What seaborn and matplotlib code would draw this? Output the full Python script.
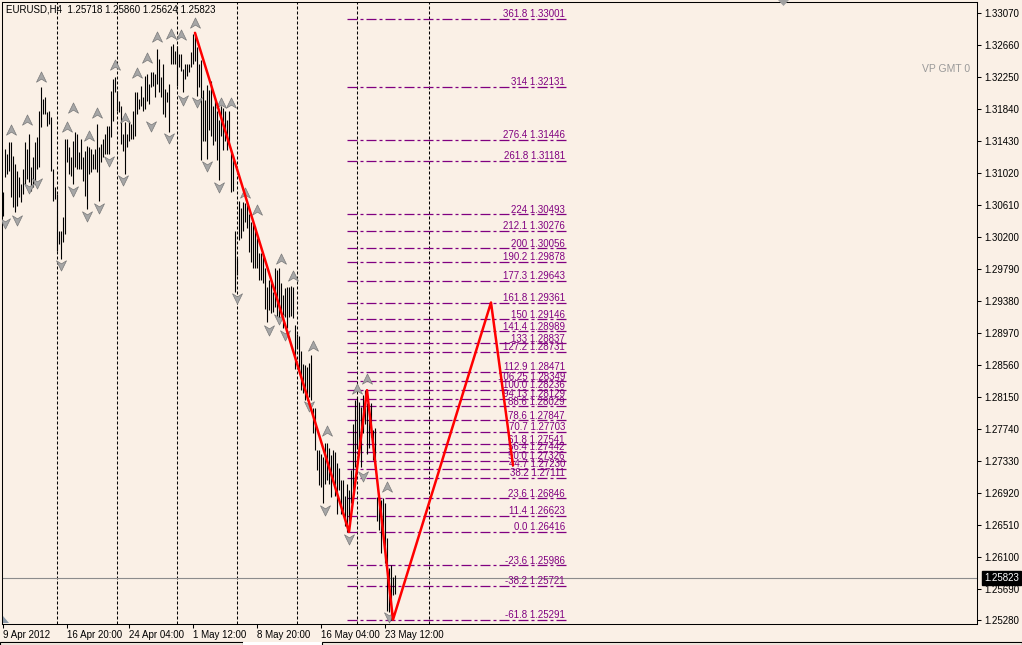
import matplotlib
matplotlib.use("Agg")
import matplotlib.pyplot as plt
from matplotlib.path import Path
from matplotlib.patches import Polygon, Rectangle
import seaborn as sns

# ---------------- data ----------------
bar_high = [
    1.30776, 1.31332, 1.31268, 1.31418, 1.31418, 1.31247, 1.31140, 1.31054, 1.30968, 1.30883,
    1.31075, 1.31418, 1.31332, 1.31525, 1.31097, 1.31225, 1.31418, 1.31482, 1.31824, 1.32124,
    1.31974, 1.31996, 1.31803, 1.31824, 1.31739, 1.31075, 1.30840, 1.30754, 1.30284, 1.30284,
    1.30455, 1.31461, 1.31461, 1.31354, 1.31225, 1.31439, 1.31546, 1.31525, 1.31289, 1.31461,
    1.31225, 1.31311, 1.31375, 1.31354, 1.31332, 1.31268, 1.31332, 1.31653, 1.31354, 1.31396,
    1.31461, 1.31525, 1.31632, 1.31632, 1.32081, 1.32231, 1.32252, 1.32081, 1.31953, 1.31889,
    1.31525, 1.31675, 1.31525, 1.31696, 1.31653, 1.31824, 1.32060, 1.32060, 1.31974, 1.32145,
    1.31996, 1.32274, 1.32295, 1.32167, 1.32317, 1.32317, 1.32295, 1.32616, 1.32488, 1.32252,
    1.32424, 1.32103, 1.32060, 1.32167, 1.32659, 1.32680, 1.32595, 1.32659, 1.32552, 1.32552,
    1.32359, 1.32424, 1.32424, 1.32424, 1.32573, 1.32809, 1.32822, 1.32638, 1.32424,
    1.32467, 1.32082, 1.31954, 1.32146, 1.32082, 1.32210, 1.31889, 1.31954, 1.31825, 1.31697,
    1.31889, 1.31851, 1.31825, 1.31697, 1.31825, 1.31312, 1.31248, 1.30285, 1.29926, 1.30670,
    1.30580, 1.30645, 1.30632, 1.30632, 1.30503, 1.30388, 1.30375, 1.30349, 1.30195, 1.29990,
    1.29990, 1.29965, 1.29798, 1.29554, 1.29644, 1.29605, 1.29490, 1.29798, 1.29772, 1.29798,
    1.29605, 1.29451, 1.29541, 1.29554, 1.29554, 1.29579, 1.29554, 1.29066, 1.28963, 1.28937,
    1.28745, 1.28578, 1.28553, 1.28527, 1.28591, 1.28681, 1.28001, 1.28001, 1.27462, 1.27462,
    1.27423, 1.27372, 1.27564, 1.27552, 1.27500, 1.27398, 1.27462, 1.27436, 1.27295, 1.27231,
    1.27077, 1.27077, 1.26884, 1.27038, 1.26949, 1.27205, 1.27808, 1.28104, 1.28142, 1.28078,
    1.28014, 1.28180, 1.28236, 1.28065, 1.27873, 1.28065, 1.27719, 1.27744, 1.26859, 1.26846,
    1.26820, 1.26846, 1.26782, 1.26345, 1.25960, 1.25986, 1.25832, 1.25860,
]
bar_low = [
    1.30476, 1.30968, 1.31011, 1.31054, 1.30712, 1.30583, 1.30519, 1.30605, 1.30712, 1.30647,
    1.30754, 1.30883, 1.30947, 1.30904, 1.30797, 1.30840, 1.30883, 1.31075, 1.31097, 1.31610,
    1.31782, 1.31782, 1.31632, 1.31653, 1.31054, 1.30669, 1.30690, 1.30027, 1.30112, 1.29920,
    1.30134, 1.30241, 1.31161, 1.31011, 1.30990, 1.30883, 1.31097, 1.31075, 1.31075, 1.31075,
    1.30926, 1.30733, 1.30562, 1.31011, 1.31033, 1.31075, 1.31075, 1.31033, 1.30669, 1.31161,
    1.31225, 1.31268, 1.31268, 1.31268, 1.31482, 1.31696, 1.32060, 1.31824, 1.31803, 1.31396,
    1.31311, 1.31011, 1.31354, 1.31439, 1.31461, 1.31461, 1.31503, 1.31782, 1.31846, 1.31889,
    1.31824, 1.31846, 1.31953, 1.31910, 1.32124, 1.32145, 1.31996, 1.32167, 1.32060, 1.31996,
    1.31782, 1.31739, 1.31931, 1.31546, 1.32424, 1.32424, 1.32424, 1.32145, 1.32381, 1.32338,
    1.32060, 1.32231, 1.32274, 1.32317, 1.32381, 1.32424, 1.32466, 1.32017, 1.32124,
    1.31184, 1.31440, 1.31440, 1.31209, 1.31569, 1.31504, 1.31376, 1.31440, 1.31184, 1.30927,
    1.31504, 1.31312, 1.31440, 1.31312, 1.31376, 1.30773, 1.30798, 1.29490, 1.29708, 1.30157,
    1.30195, 1.30285, 1.30388, 1.30311, 1.30003, 1.29875, 1.29810, 1.29798, 1.29810, 1.29644,
    1.29644, 1.29605, 1.29284, 1.29105, 1.29259, 1.29220, 1.29233, 1.29297, 1.29169, 1.29092,
    1.29259, 1.29040, 1.29169, 1.29040, 1.29169, 1.29194, 1.29156, 1.28514, 1.28783, 1.28488,
    1.28232, 1.28206, 1.28104, 1.28104, 1.28142, 1.28104, 1.27680, 1.27462, 1.27205, 1.27013,
    1.26987, 1.26782, 1.27038, 1.27077, 1.27038, 1.26859, 1.27077, 1.26884, 1.26653, 1.26949,
    1.26653, 1.26653, 1.26499, 1.26416, 1.26563, 1.26782, 1.26949, 1.27244, 1.27500, 1.27462,
    1.27244, 1.27680, 1.27808, 1.27423, 1.27500, 1.27629, 1.27334, 1.27244, 1.26563, 1.26435,
    1.26140, 1.26397, 1.26012, 1.25408, 1.25383, 1.25291, 1.25601, 1.25624,
]
bar_index = list(range(len(bar_high)))

fractal_up_bar = [4, 12, 19, 32, 35, 43, 47, 56, 61, 67, 72, 77, 84, 89, 96, 109, 114,
                  121, 127, 139, 145, 155, 162, 177, 182, 192]
fractal_up_price = [1.31569, 1.31697, 1.32249, 1.31607, 1.31851, 1.31504, 1.31787, 1.32403,
                    1.31735, 1.32300, 1.32493, 1.32762, 1.32813, 1.32788, 1.32942, 1.31915,
                    1.31915, 1.30760, 1.30542, 1.29913, 1.29695, 1.28809, 1.27706, 1.28245,
                    1.28373, 1.26987]
fractal_dn_bar = [1, 7, 13, 17, 29, 35, 42, 48, 53, 60, 74, 83, 90, 97, 102, 108, 117,
                  133, 138, 141, 153, 161, 173, 180, 193]
fractal_dn_price = [1.30375, 1.30426, 1.30825, 1.30889, 1.29836, 1.30786, 1.30465, 1.30580,
                    1.31171, 1.30927, 1.31620, 1.31466, 1.31966, 1.31928, 1.31119, 1.30837,
                    1.29425, 1.29002, 1.29143, 1.28938, 1.28027, 1.26692, 1.26320, 1.27128,
                    1.25331]

zigzag_bar = [96, 173, 182, 195, 244, 255]
zigzag_price = [1.32822, 1.26416, 1.28236, 1.25291, 1.29361, 1.27270]

fib_ratio = ["361.8", "314", "276.4", "261.8", "224", "212.1", "200", "190.2", "177.3",
             "161.8", "150", "141.4", "133", "127.2", "112.9", "106.25", "100.0", "94.13",
             "88.6", "78.6", "70.7", "61.8", "56.4", "50.0", "44.7", "38.2", "23.6", "11.4",
             "0.0", "-23.6", "-38.2", "-61.8"]
fib_price = [1.33001, 1.32131, 1.31446, 1.31181, 1.30493, 1.30276, 1.30056, 1.29878, 1.29643,
             1.29361, 1.29146, 1.28989, 1.28837, 1.28731, 1.28471, 1.28349, 1.28236, 1.28129,
             1.28029, 1.27847, 1.27703, 1.27541, 1.27442, 1.27326, 1.27230, 1.27111, 1.26846,
             1.26623, 1.26416, 1.25986, 1.25721, 1.25291]
fib_bar_start = 172
fib_bar_end = 282

separator_bar = [27, 57, 87, 117, 147, 177, 213]
time_tick_bar = [0, 32, 63, 95, 127, 159, 191]
time_tick_label = ["9 Apr 2012", "16 Apr 20:00", "24 Apr 04:00", "1 May 12:00",
                   "8 May 20:00", "16 May 04:00", "23 May 12:00"]
price_ticks = [1.33070, 1.32660, 1.32250, 1.31840, 1.31430, 1.31020, 1.30610, 1.30200,
               1.29790, 1.29380, 1.28970, 1.28560, 1.28150, 1.27740, 1.27330, 1.26920,
               1.26510, 1.26100, 1.25690, 1.25280]
current_price = 1.25823
header = "EURUSD,H4  1.25718 1.25860 1.25624 1.25823"
note = "VP GMT 0"

# ---------------- style ----------------
BG = "#FAF0E6"
sns.set_style("white")
plt.rcParams["font.family"] = ["Liberation Sans", "DejaVu Sans"]
plt.rcParams["lines.scale_dashes"] = False
plt.rcParams["axes.linewidth"] = 0.75

W, H = 1022, 645
fig = plt.figure(figsize=(W / 100, H / 100), dpi=100, facecolor=BG)
ax = fig.add_axes([2 / W, 21 / H, 975 / W, 622.5 / H])
ax.set_facecolor(BG)
ax.set_xlim(-0.5, 487)
ax.set_ylim(1.25235, 1.33224)
for s in ax.spines.values():
    s.set_color("black")
    s.set_linewidth(0.75)

PX = 0.72  # points per pixel

# week separators
for b in separator_bar:
    ax.axvline(b, color="black", lw=0.75, linestyle=(0, (3 * PX, 2 * PX)), zorder=1)

# current price line
ax.axhline(current_price, color="#8C8C8C", lw=0.8, zorder=1.5)

# fibo levels
for r, p in zip(fib_ratio, fib_price):
    ax.plot([fib_bar_start, fib_bar_end], [p, p], color="#800080", lw=0.9,
            linestyle=(0, (10 * PX, 3 * PX, 3 * PX, 3 * PX)), zorder=2.5)
    ax.annotate(f"{r} {p:.5f}", xy=(fib_bar_end - 1, p), xytext=(0, -0.2),
                textcoords="offset points", ha="right", va="bottom",
                fontsize=7, color="#800080", zorder=2)

# bars
ax.vlines(bar_index, bar_low, bar_high, color="black", lw=0.8, zorder=3)

# fractal arrows
up_path = Path([(0, 1), (0.9, -0.85), (0, -0.3), (-0.9, -0.85), (0, 1)],
               [Path.MOVETO, Path.LINETO, Path.LINETO, Path.LINETO, Path.CLOSEPOLY])
dn_path = Path([(0, -1), (0.9, 0.85), (0, 0.3), (-0.9, 0.85), (0, -1)],
               [Path.MOVETO, Path.LINETO, Path.LINETO, Path.LINETO, Path.CLOSEPOLY])
ax.plot(fractal_up_bar, fractal_up_price, linestyle="none", marker=up_path, ms=8,
        mfc="#A6A6A6", mec="#7A7A7A", mew=0.5, zorder=4)
ax.plot(fractal_dn_bar, fractal_dn_price, linestyle="none", marker=dn_path, ms=8,
        mfc="#A6A6A6", mec="#7A7A7A", mew=0.5, zorder=4)

# zigzag
sns.lineplot(x=zigzag_bar, y=zigzag_price, sort=False, estimator=None, color="red",
             lw=1.8, ax=ax, zorder=5)

# axes ticks
ax.yaxis.tick_right()
ax.set_yticks(price_ticks)
ax.set_yticklabels([f"{v:.5f}" for v in price_ticks])
ax.tick_params(axis="y", direction="out", length=3, width=0.75, pad=2.5,
               labelsize=7, colors="black", right=True, left=False)
ax.set_xticks(time_tick_bar)
ax.set_xticklabels(time_tick_label)
for lab in ax.get_xticklabels():
    lab.set_horizontalalignment("left")
ax.tick_params(axis="x", direction="out", length=3, width=0.75, pad=1.5,
               labelsize=7, colors="black", bottom=True)
ax.set_xlabel("")
ax.set_ylabel("")
ax.grid(False)

# current price box
ax.annotate(f"{current_price:.5f}", xy=(1, current_price), xycoords=("axes fraction", "data"),
            xytext=(5, 0), textcoords="offset points", ha="left", va="center",
            fontsize=7, color="white", annotation_clip=False, zorder=10,
            bbox=dict(boxstyle="square,pad=0.2", fc="black", ec="black"))

# header and note
fig.text(6 / W, 1 - 10 / H, header, fontsize=7, color="black", ha="left", va="center")
fig.text(922 / W, 1 - 69 / H, note, fontsize=7.5, color="#9A9A9A", ha="left", va="center")

# small chrome decorations
def fp(x, y):
    return (x / W, 1 - y / H)

fig.patches.append(Polygon([fp(778, 0), fp(789, 0), fp(783.5, 6)], closed=True,
                           transform=fig.transFigure, fc="#A0A0A0", ec="none"))
fig.patches.append(Polygon([fp(3, 616), fp(3, 623), fp(9, 623)], closed=True,
                           transform=fig.transFigure, fc="#8C9AA8", ec="none"))
fig.patches.append(Rectangle(fp(0, 645), 243 / W, 3 / H, transform=fig.transFigure,
                             fc="none", ec="black", lw=0.8))
fig.patches.append(Rectangle(fp(243, 645), 79 / W, 3 / H, transform=fig.transFigure,
                             fc="white", ec="none"))
fig.patches.append(Rectangle(fp(322, 645), 700 / W, 3 / H, transform=fig.transFigure,
                             fc="none", ec="black", lw=0.8))

fig.savefig("out.png", dpi=100, facecolor=BG)
